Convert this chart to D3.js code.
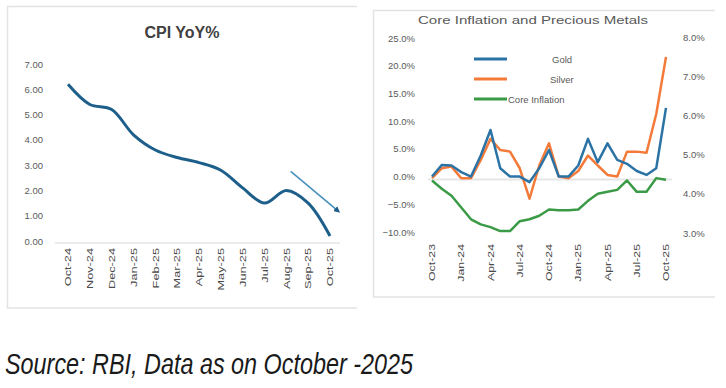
<!DOCTYPE html>
<html><head><meta charset="utf-8">
<script src="https://cdn.jsdelivr.net/npm/d3@7"></script>
<style>
html,body{margin:0;padding:0;background:#fff;}
svg{display:block;}
text{font-family:"Liberation Sans","Open Sans",sans-serif;}
</style></head>
<body>
<svg id="chart" width="726" height="388"></svg>
<script>
// ---------- Data ----------
const cpiMonths = ["Oct-24","Nov-24","Dec-24","Jan-25","Feb-25","Mar-25","Apr-25","May-25","Jun-25","Jul-25","Aug-25","Sep-25","Oct-25"];
const cpiValues = [6.2, 5.4, 5.2, 4.2, 3.6, 3.3, 3.1, 2.8, 2.1, 1.5, 2.0, 1.5, 0.2];
const cpiTicks = [0,1,2,3,4,5,6,7];
// trend arrow annotation: [monthIndex, value]
const cpiArrow = [[10.2, 2.75], [12.35, 1.2]];

const metalMonths = ["Oct-23","Nov-23","Dec-23","Jan-24","Feb-24","Mar-24","Apr-24","May-24","Jun-24","Jul-24","Aug-24","Sep-24",
  "Oct-24","Nov-24","Dec-24","Jan-25","Feb-25","Mar-25","Apr-25","May-25","Jun-25","Jul-25","Aug-25","Sep-25","Oct-25"];
const goldValues   = [0.0, 2.1, 2.0, 0.8, 0.0, 3.8, 8.4, 1.5, 0.0, 0.0, -1.0, 1.5, 4.8, 0.0, 0.0, 2.0, 6.8, 2.6, 6.0, 3.0, 2.3, 1.0, 0.3, 1.5, 12.4];
const silverValues = [-0.3, 1.5, 1.8, -0.3, -0.3, 3.0, 6.8, 4.8, 4.5, 1.5, -4.0, 2.0, 6.0, 0.0, -0.3, 1.0, 3.8, 2.0, 0.3, 0.0, 4.5, 4.5, 4.3, 11.3, 21.6];
const coreValues   = [4.34, 4.13, 3.95, 3.65, 3.35, 3.22, 3.15, 3.05, 3.05, 3.3, 3.35, 3.44, 3.6, 3.58, 3.58, 3.6, 3.82, 4.0, 4.05, 4.1, 4.34, 4.05, 4.05, 4.4, 4.36];
const metalLabelMonths = ["Oct-23","Jan-24","Apr-24","Jul-24","Oct-24","Jan-25","Apr-25","Jul-25","Oct-25"];
const leftTicks = [-10, -5, 0, 5, 10, 15, 20, 25];
const rightTicks = [3, 4, 5, 6, 7, 8];
const seriesNames = ["Gold", "Silver", "Core Inflation"];

// ---------- Drawing ----------
const svg = d3.select("#chart");
svg.append("rect").attr("width",726).attr("height",388).attr("fill","#fff");

const panelStroke = "#e3e3e3";
const tickColor = "#5a5a5a";

// ===== Left panel: CPI YoY% =====
const L = svg.append("g");
L.append("path").attr("d","M357,6.5H7.5V308H357").attr("fill","none").attr("stroke",panelStroke).attr("stroke-width",1.5);

L.append("text").attr("x",182).attr("y",38).attr("text-anchor","middle")
  .attr("font-size",16).attr("font-weight","bold").attr("fill","#404040").text("CPI YoY%");

const xL = d3.scalePoint().domain(cpiMonths).range([68, 330]);
const xLi = d3.scaleLinear().domain([0, cpiMonths.length-1]).range([68, 330]);
const yL = d3.scaleLinear().domain([0, 7]).range([241, 64]);

// baseline
L.append("line").attr("x1",55).attr("x2",340).attr("y1",yL(0)+2).attr("y2",yL(0)+2)
  .attr("stroke","#e6e6e6").attr("stroke-width",1.5);

// y axis
const yAxisL = d3.axisLeft(yL).tickValues(cpiTicks).tickFormat(d3.format(".2f")).tickSize(0).tickPadding(0);
const gyL = L.append("g").attr("transform","translate(43,0)").call(yAxisL);
gyL.select(".domain").remove();
gyL.selectAll("text").attr("font-size",9.5).attr("fill",tickColor).attr("font-family","Liberation Sans, sans-serif");

// x labels
const gxL = L.append("g").attr("transform",`translate(0,${yL(0)+7})`)
  .call(d3.axisBottom(xL).tickSize(0).tickPadding(0));
gxL.select(".domain").remove();
gxL.selectAll("text").attr("font-size",8.5).attr("fill","#4a4a4a")
  .attr("text-anchor","end").attr("dy","0.32em")
  .attr("transform","rotate(-90) scale(1.5,1)").attr("x",0).attr("y",0);

// line
L.append("path").datum(cpiValues)
  .attr("d", d3.line().x((d,i)=>xL(cpiMonths[i])).y(d=>yL(d)).curve(d3.curveCatmullRom.alpha(0.5)))
  .attr("fill","none").attr("stroke","#1d5f8a").attr("stroke-width",3).attr("stroke-linejoin","round");

// arrow annotation
const defs = svg.append("defs");
defs.append("marker").attr("id","arr").attr("viewBox","0 0 10 10").attr("refX",5).attr("refY",5)
  .attr("markerWidth",4).attr("markerHeight",4).attr("orient","auto")
  .append("path").attr("d","M0,0L10,5L0,10z").attr("fill","#1d5f8a");
L.append("path").datum(cpiArrow)
  .attr("d", d3.line().x(d=>xLi(d[0])).y(d=>yL(d[1])))
  .attr("stroke","#4a90bd").attr("stroke-width",1.6).attr("fill","none").attr("marker-end","url(#arr)");

// ===== Right panel: Core Inflation and Precious Metals =====
const R = svg.append("g");
R.append("path").attr("d","M715,10.5H373.5V297H715").attr("fill","none").attr("stroke",panelStroke).attr("stroke-width",1.5);

R.append("text").attr("x",533).attr("y",24).attr("text-anchor","middle")
  .attr("font-size",11).attr("fill","#595959").attr("textLength",230).attr("lengthAdjust","spacingAndGlyphs")
  .text("Core Inflation and Precious Metals");

const xR = d3.scalePoint().domain(metalMonths).range([432, 666]);
const yRL = d3.scaleLinear().domain([-10, 25]).range([232, 38]);
const yRR = d3.scaleLinear().domain([3, 8]).range([233, 37]);

// zero line
R.append("line").attr("x1",428).attr("x2",672).attr("y1",yRL(0)+3).attr("y2",yRL(0)+3)
  .attr("stroke","#e6e6e6").attr("stroke-width",2);

const pct = d3.format(".1f");
const gyRL = R.append("g").attr("transform","translate(415,0)")
  .call(d3.axisLeft(yRL).tickValues(leftTicks).tickFormat(d=>pct(d)+"%").tickSize(0).tickPadding(0));
gyRL.select(".domain").remove();
gyRL.selectAll("text").attr("font-size",9.5).attr("fill",tickColor);

const gyRR = R.append("g").attr("transform","translate(683,0)")
  .call(d3.axisRight(yRR).tickValues(rightTicks).tickFormat(d=>pct(d)+"%").tickSize(0).tickPadding(0));
gyRR.select(".domain").remove();
gyRR.selectAll("text").attr("font-size",9.5).attr("fill",tickColor);

const gxR = R.append("g").attr("transform","translate(0,244)")
  .call(d3.axisBottom(xR).tickValues(metalLabelMonths).tickSize(0).tickPadding(0));
gxR.select(".domain").remove();
gxR.selectAll("text").attr("font-size",8.5).attr("fill","#4a4a4a")
  .attr("text-anchor","end").attr("dy","0.32em")
  .attr("transform","rotate(-90) scale(1.45,1)").attr("x",0).attr("y",0);

const colors = {"Gold":"#2b73a5","Silver":"#f47a3a","Core Inflation":"#3a9a45"};
const lineL = d3.line().x((d,i)=>xR(metalMonths[i])).y(d=>yRL(d));
const lineR = d3.line().x((d,i)=>xR(metalMonths[i])).y(d=>yRR(d));

R.append("path").datum(coreValues).attr("d",lineR).attr("fill","none")
  .attr("stroke",colors["Core Inflation"]).attr("stroke-width",2.5).attr("stroke-linejoin","round");
R.append("path").datum(silverValues).attr("d",lineL).attr("fill","none")
  .attr("stroke",colors["Silver"]).attr("stroke-width",2.5).attr("stroke-linejoin","round");
R.append("path").datum(goldValues).attr("d",lineL).attr("fill","none")
  .attr("stroke",colors["Gold"]).attr("stroke-width",2.5).attr("stroke-linejoin","round");

// legend
const legY = [59, 79, 99];
const legTextX = [552, 550, 508];
seriesNames.forEach((n,i)=>{
  R.append("line").attr("x1",474).attr("x2",507).attr("y1",legY[i]).attr("y2",legY[i])
    .attr("stroke",colors[n]).attr("stroke-width",3);
  R.append("text").attr("x",legTextX[i]).attr("y",legY[i]+3.5)
    .attr("font-size",9.5).attr("fill","#595959").text(n);
});

// ===== Source note =====
svg.append("text").attr("x",5).attr("y",374)
  .attr("font-family","'Liberation Sans Narrow','DejaVu Sans Condensed',sans-serif")
  .attr("font-style","italic").attr("font-size",30).attr("fill","#1a1a1a")
  .attr("textLength",408).attr("lengthAdjust","spacingAndGlyphs")
  .text("Source: RBI, Data as on October -2025");
</script>
</body></html>
